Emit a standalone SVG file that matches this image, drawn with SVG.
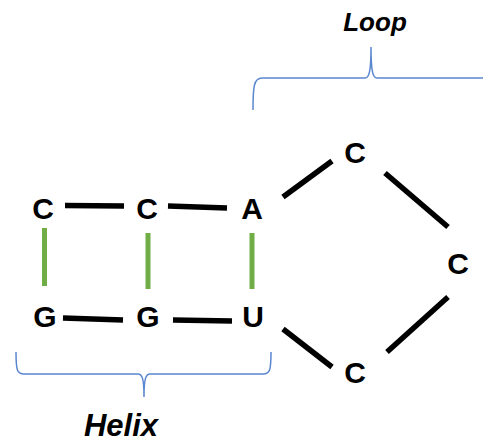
<svg xmlns="http://www.w3.org/2000/svg" width="483" height="442" viewBox="0 0 483 442">
<style>
.nt{font-family:"Liberation Sans",Arial,sans-serif;font-weight:bold;font-size:30px;fill:#000;text-anchor:middle}
.lbl{font-family:"Liberation Sans",Arial,sans-serif;font-weight:bold;font-style:italic;fill:#000;text-anchor:middle}
.bb{stroke:#000;stroke-width:5.5;fill:none}
.bp{stroke:#70AD47;stroke-width:5;fill:none}
.br{stroke:#5B87D0;stroke-width:1.5;fill:none}
</style>
<rect width="483" height="442" fill="#fff"/>
<g id="connectors">
<line class="bb" x1="65" y1="205.5" x2="124" y2="206"/>
<line class="bb" x1="168" y1="206" x2="227" y2="208"/>
<line class="bb" x1="63" y1="318" x2="123" y2="320"/>
<line class="bb" x1="173" y1="320" x2="232" y2="321"/>
<line class="bb" x1="283" y1="197" x2="332" y2="161"/>
<line class="bb" x1="385" y1="173" x2="448" y2="227"/>
<line class="bb" x1="448" y1="297" x2="387" y2="352"/>
<line class="bb" x1="283" y1="329" x2="332" y2="367"/>
<line class="bp" x1="44.5" y1="228" x2="44.5" y2="286"/>
<line class="bp" x1="148" y1="233" x2="148" y2="289"/>
<line class="bp" x1="252" y1="233" x2="252" y2="289"/>
</g>
<g id="n-C1"><text class="nt" x="43" y="219">C</text></g>
<g id="n-C2"><text class="nt" x="147" y="219">C</text></g>
<g id="n-A"><text class="nt" x="252" y="219">A</text></g>
<g id="n-G1"><text class="nt" x="45" y="327">G</text></g>
<g id="n-G2"><text class="nt" x="148" y="327">G</text></g>
<g id="n-U"><text class="nt" x="253" y="327">U</text></g>
<g id="n-C3"><text class="nt" x="355" y="163">C</text></g>
<g id="n-C4"><text class="nt" x="458" y="274">C</text></g>
<g id="n-C5"><text class="nt" x="355" y="383">C</text></g>
<g id="loop">
<path class="br" d="M253,110 C253,86 254,78 262,78 L365,78 C369,78 371,72 371,47 C371,72 373,78 377,78 L483,78"/>
<text class="lbl" x="375" y="31" font-size="26">Loop</text>
</g>
<g id="helix">
<path class="br" d="M16,352 C16,370 17,374 24,374 L138,374 C142,374 144,378 144,397 C144,378 146,374 150,374 L263,374 C270,374 271,370 271,352"/>
<text class="lbl" x="121" y="436" font-size="31">Helix</text>
</g>
</svg>
